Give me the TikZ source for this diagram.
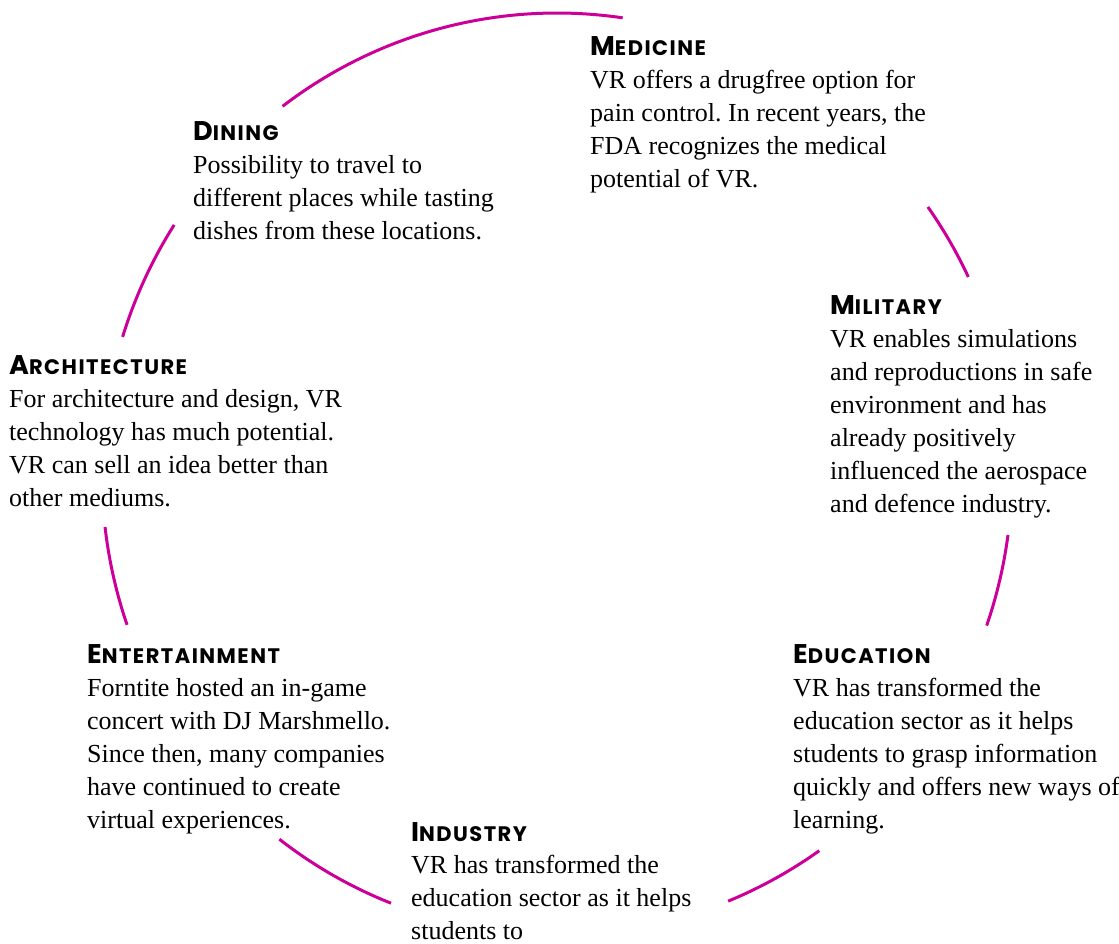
\documentclass[tikz,border=0pt]{standalone}
\usepackage{fontspec}
\setmainfont{Liberation Serif}
\newfontfamily\headfont{Poppins}[LetterSpace=7]
\usetikzlibrary{positioning}

\definecolor{vrpink}{RGB}{204,0,153}
\newcommand{\capshead}[2]{{\headfont\bfseries\fontsize{27}{27}\selectfont #1\fontsize{21}{21}\selectfont #2}}

\tikzset{
    head/.style={anchor=base west, inner sep=0pt},
    body/.style={anchor=north west, inner sep=0pt, align=left, font=\frenchspacing\fontsize{26}{33}\selectfont},
    ring/.style={line width=3pt, vrpink},
}

\begin{document}
\begin{tikzpicture}[x=1pt,y=1pt]
    \useasboundingbox (0,0) rectangle (1119,943);
    \coordinate (hub) at (557,469);

    % pieces of the ring between the texts
    \foreach \a/\b in {81.7/127.1, 147.3/162.7, 186.6/199.1, 232.4/248.6, 292.1/305.2, 340.8/352.4, 25.3/35.4}
        \draw[ring] (hub) ++(\a:455 and 461) arc[start angle=\a, end angle=\b, x radius=455, y radius=461];

    \node[head] (medH) at (590,887) {\capshead{M}{EDICINE}}; % top
    \node[body, below=14pt of medH.base west, anchor=north west] (medB) {VR offers a drugfree option for\\pain control. In recent years, the\\FDA recognizes the medical\\potential of VR.};

    \node[head] (dinH) at (193,802) {\capshead{D}{INING}};
    \node[body, below=14pt of dinH.base west, anchor=north west] (dinB) {Possibility to travel to\\different places while tasting\\dishes from these locations.};

    \node[head] (archH) at (9,568) {\capshead{A}{RCHITECTURE}}; % left
    \node[body, below=14pt of archH.base west, anchor=north west] (archB) {For architecture and design, VR\\technology has much potential.\\VR can sell an idea better than\\other mediums.};

    \node[head] (milH) at (830,628) {\capshead{M}{ILITARY}}; % right
    \node[body, below=14pt of milH.base west, anchor=north west] (milB) {VR enables simulations\\and reproductions in safe\\environment and has\\already positively\\influenced the aerospace\\and defence industry.};

    \node[head] (entH) at (87,279) {\capshead{E}{NTERTAINMENT}};
    \node[body, below=14pt of entH.base west, anchor=north west] (entB) {Forntite hosted an in-game\\concert with DJ Marshmello.\\Since then, many companies\\have continued to create\\virtual experiences.};

    \node[head] (eduH) at (793,279) {\capshead{E}{DUCATION}};
    \node[body, below=14pt of eduH.base west, anchor=north west] (eduB) {VR has transformed the\\education sector as it helps\\students to grasp information\\quickly and offers new ways of\\learning.};

    \node[head] (indH) at (411,102) {\capshead{I}{NDUSTRY}}; % bottom
    \node[body, below=14pt of indH.base west, anchor=north west] (indB) {VR has transformed the\\education sector as it helps\\students to};
\end{tikzpicture}
\end{document}
